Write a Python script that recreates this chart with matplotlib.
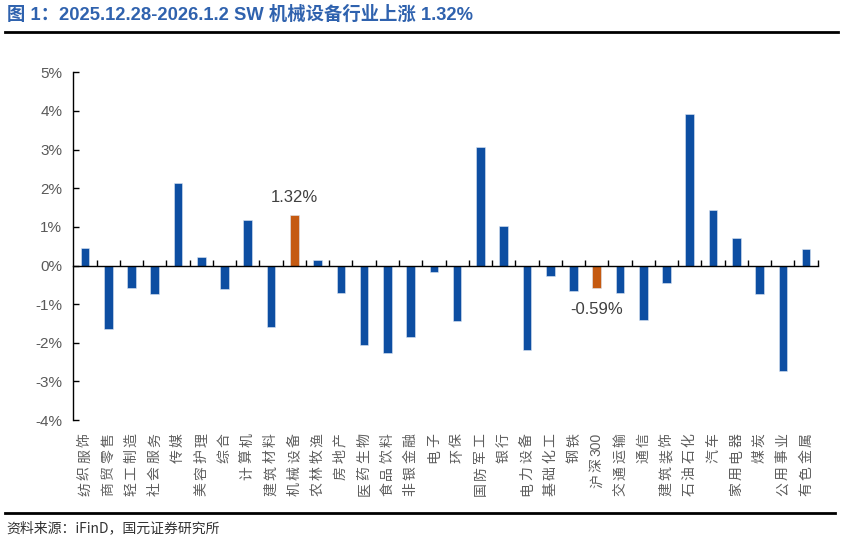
import matplotlib
matplotlib.use("Agg")
import matplotlib.pyplot as plt
from matplotlib.lines import Line2D

plt.rcParams['font.family'] = ['Liberation Sans', 'Noto Sans CJK SC', 'DejaVu Sans']

# 行业名称与周涨跌幅(%)
industries = ["纺织服饰", "商贸零售", "轻工制造", "社会服务", "传媒", "美容护理", "综合", "计算机",
              "建筑材料", "机械设备", "农林牧渔", "房地产", "医药生物", "食品饮料", "非银金融", "电子",
              "环保", "国防军工", "银行", "电力设备", "基础化工", "钢铁", "沪深300", "交通运输",
              "通信", "建筑装饰", "石油石化", "汽车", "家用电器", "煤炭", "公用事业", "有色金属"]
changes = [0.45, -1.64, -0.59, -0.73, 2.14, 0.22, -0.61, 1.17,
           -1.59, 1.32, 0.15, -0.70, -2.06, -2.27, -1.85, -0.17,
           -1.44, 3.06, 1.02, -2.19, -0.28, -0.65, -0.59, -0.72,
           -1.42, -0.45, 3.93, 1.45, 0.71, -0.75, -2.72, 0.42]
highlight = ["机械设备", "沪深300"]
yticks = [-4, -3, -2, -1, 0, 1, 2, 3, 4, 5]

BLUE = "#0D4EA2"
ORANGE = "#C55A11"

fig = plt.figure(figsize=(8.43, 5.42), dpi=100)
ax = fig.add_axes([0.087, 0.225, 0.883, 0.6415])

x = list(range(len(industries)))
colors = [ORANGE if n in highlight else BLUE for n in industries]
ax.bar(x, changes, width=0.37, color=colors, edgecolor="#DDE6F3", linewidth=0.4, zorder=2)

ax.set_xlim(-0.5, len(industries) - 0.5)
ax.set_ylim(-4, 5)
ax.set_yticks(yticks)
ax.set_yticklabels([f"{v}%" for v in yticks], color="#595959", fontsize=11)
ax.tick_params(axis="y", direction="in", length=4, width=1, pad=8)

# x轴放在0处，刻度在类别边界
ax.spines["bottom"].set_position(("data", 0))
ax.spines["top"].set_visible(False)
ax.spines["right"].set_visible(False)
ax.spines["left"].set_linewidth(1)
ax.spines["bottom"].set_linewidth(1)
ax.set_xticks([i + 0.5 for i in range(len(industries))])
ax.set_xticklabels([])
ax.tick_params(axis="x", direction="in", length=4, width=1)


# 竖排标签：整体旋转90度（从下往上读），逐字放置以加大字距
def tokens(name):
    out, buf = [], ""
    for ch in name:
        if ch.isdigit():
            buf += ch
        else:
            if buf:
                out.append(buf)
                buf = ""
            out.append(ch)
    if buf:
        out.append(buf)
    return out[::-1]


for i, name in enumerate(industries):
    off = 13  # 像素
    for t in tokens(name):
        ax.annotate(t, xy=(i, 0), xycoords=("data", "axes fraction"),
                    xytext=(0, -off * 0.72), textcoords="offset points",
                    ha="center", va="top", rotation=90, fontsize=10,
                    color="#5E5E5E")
        off += 25 if t.isdigit() else 16.5

# 数值标注
for n in highlight:
    i = industries.index(n)
    v = changes[i]
    if v >= 0:
        ax.annotate(f"{v:.2f}%", xy=(i, v), xytext=(0, 7), textcoords="offset points",
                    ha="center", va="bottom", fontsize=12, color="#404040")
    else:
        ax.annotate(f"{v:.2f}%", xy=(i, v), xytext=(0, -10), textcoords="offset points",
                    ha="center", va="top", fontsize=12, color="#404040")

# 标题与分隔线
fig.text(0.008, 0.972, "图 1：2025.12.28-2026.1.2 SW 机械设备行业上涨 1.32%",
         ha="left", va="center", fontsize=13.2, fontweight="bold", color="#2F62AE")
fig.add_artist(Line2D([0.006, 0.994], [0.941, 0.941], color="black", linewidth=2))
fig.add_artist(Line2D([0.006, 0.99], [0.054, 0.054], color="black", linewidth=2))
fig.text(0.008, 0.025, "资料来源：iFinD，国元证券研究所", ha="left", va="center",
         fontsize=10, color="#333333", family=["Noto Sans CJK SC"])

fig.savefig("out.png", dpi=100)
